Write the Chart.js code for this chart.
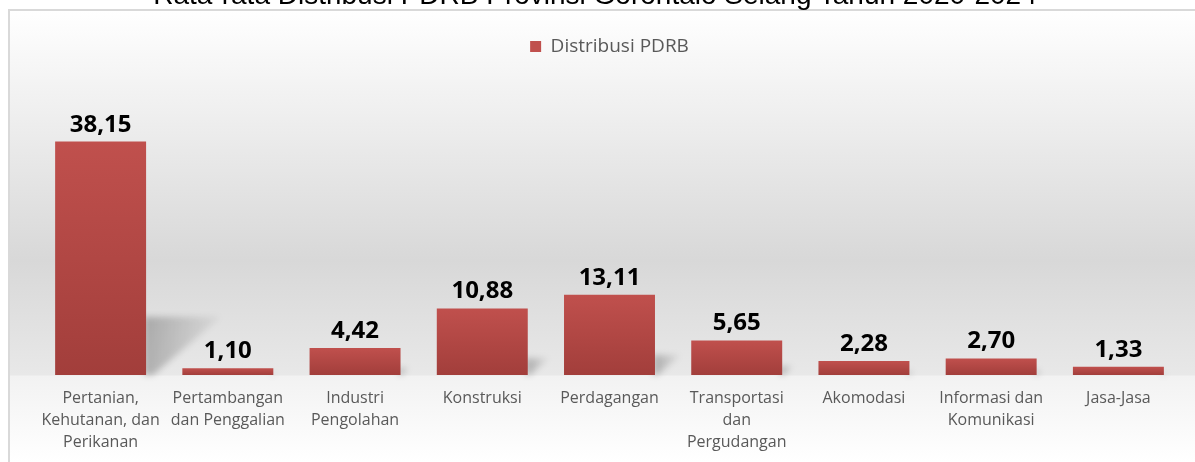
<!doctype html>
<html>

<head>
  <title>Distribusi PDRB</title>
  <script src="https://cdn.jsdelivr.net/npm/chart.js"></script>
  <style>
    body { margin: 0; background: #fff; overflow: hidden; }
    #wrap { position: relative; width: 1195px; height: 462px; }
    #title {
      position: absolute; left: 0; top: -19px; width: 1190px;
      text-align: center; font: 28px "Liberation Sans", Arial, sans-serif;
      line-height: 28px; color: #000; white-space: nowrap; z-index: 2;
    }
  </style>
</head>

<body>
<div id="wrap">
  <div id="title">Rata-rata Distribusi PDRB Provinsi Gorontalo Selang Tahun 2020-2024</div>
  <canvas id="chart" width="1195" height="462"></canvas>
</div>
<script>
    const categories = [
        ['Pertanian,', 'Kehutanan, dan', 'Perikanan'],
        ['Pertambangan', 'dan Penggalian'],
        ['Industri', 'Pengolahan'],
        'Konstruksi',
        'Perdagangan',
        ['Transportasi', 'dan', 'Pergudangan'],
        'Akomodasi',
        ['Informasi dan', 'Komunikasi'],
        'Jasa-Jasa'
    ];
    const distribusi = [38.15, 1.10, 4.42, 10.88, 13.11, 5.65, 2.28, 2.70, 1.33];
    const seriesName = 'Distribusi PDRB';

    const fmt = v => v.toFixed(2).replace('.', ',');

    // background panel with a light "floor" under the bars
    const backdrop = {
        id: 'backdrop',
        beforeDraw(chart) {
            const {ctx, chartArea} = chart;
            const b = chartArea.bottom;
            ctx.save();
            ctx.fillStyle = '#fff';
            ctx.fillRect(0, 0, chart.width, chart.height);
            const g = ctx.createLinearGradient(0, 10, 0, chart.height);
            const f = y => (y - 10) / (chart.height - 10);
            g.addColorStop(0, '#ffffff');
            g.addColorStop(f(260), '#d8d8d8');
            g.addColorStop(f(b), '#e8e8e8');
            g.addColorStop(f(b + 1), '#f2f2f2');
            g.addColorStop(1, '#ffffff');
            ctx.fillStyle = g;
            ctx.fillRect(9, 10, chart.width, chart.height);
            ctx.strokeStyle = '#d9d9d9';
            ctx.lineWidth = 2;
            ctx.beginPath();
            ctx.moveTo(9, chart.height + 5);
            ctx.lineTo(9, 10);
            ctx.lineTo(chart.width + 5, 10);
            ctx.stroke();
            ctx.restore();
        }
    };

    // soft perspective shadow behind each bar
    const barShadow = {
        id: 'barShadow',
        beforeDatasetsDraw(chart) {
            const {ctx} = chart;
            const meta = chart.getDatasetMeta(0);
            ctx.save();
            ctx.filter = 'blur(3px)';
            meta.data.forEach(bar => {
                const h = bar.base - bar.y;
                const r = bar.x + bar.width / 2;
                const top = bar.base - 0.25 * h;
                const g = ctx.createLinearGradient(r, 0, r + 0.32 * h, 0);
                g.addColorStop(0, 'rgba(0,0,0,0.24)');
                g.addColorStop(1, 'rgba(0,0,0,0.03)');
                ctx.fillStyle = g;
                ctx.beginPath();
                ctx.moveTo(r - 2, bar.base);
                ctx.lineTo(r - 2, top);
                ctx.lineTo(r + 0.32 * h, top);
                ctx.lineTo(r + 0.03 * h, bar.base);
                ctx.closePath();
                ctx.fill();
            });
            ctx.restore();
        }
    };

    const valueLabels = {
        id: 'valueLabels',
        afterDatasetsDraw(chart) {
            const {ctx} = chart;
            const meta = chart.getDatasetMeta(0);
            ctx.save();
            ctx.font = 'bold 24px "Open Sans", sans-serif';
            ctx.fillStyle = '#000';
            ctx.textAlign = 'center';
            ctx.textBaseline = 'alphabetic';
            meta.data.forEach((bar, i) => {
                ctx.fillText(fmt(distribusi[i]), bar.x, bar.y - 10);
            });
            ctx.restore();
        }
    };

    function barFill(c) {
        const chart = c.chart;
        if (c.type !== 'data' || !chart.chartArea) return '#c0504d';
        const y = chart.scales.y;
        const top = y.getPixelForValue(c.raw);
        const base = y.getPixelForValue(0);
        if (!isFinite(top) || base - top < 1) return '#b94a47';
        const g = chart.ctx.createLinearGradient(0, top, 0, base);
        g.addColorStop(0, '#c0504d');
        g.addColorStop(1, '#a23e3b');
        return g;
    }

    const ctx = document.getElementById('chart').getContext('2d');
    const chart = new Chart(ctx, {
        type: 'bar',
        data: {
            labels: categories,
            datasets: [{
                label: seriesName,
                data: distribusi,
                backgroundColor: barFill,
                borderWidth: 0,
                categoryPercentage: 1,
                barPercentage: 0.715
            }]
        },
        plugins: [backdrop, barShadow, valueLabels],
        options: {
            responsive: false,
            animation: false,
            layout: { padding: { left: 37, right: 13, top: 9, bottom: -3 } },
            plugins: {
                tooltip: { enabled: false },
                legend: {
                    position: 'top',
                    labels: {
                        boxWidth: 11,
                        boxHeight: 11,
                        padding: 28,
                        color: '#595959',
                        font: { family: '"Open Sans", sans-serif', size: 19 },
                        generateLabels: () => [{
                            text: seriesName,
                            fillStyle: '#c0504d',
                            strokeStyle: '#c0504d',
                            lineWidth: 0,
                            fontColor: '#595959',
                            datasetIndex: 0
                        }]
                    }
                }
            },
            scales: {
                x: {
                    grid: { display: false, drawTicks: false },
                    border: { display: false },
                    ticks: {
                        color: '#595959',
                        font: { family: '"Open Sans", sans-serif', size: 16, lineHeight: '22px' },
                        padding: 12,
                        autoSkip: false,
                        maxRotation: 0
                    }
                },
                y: {
                    display: false,
                    min: 0,
                    max: 50.5
                }
            }
        }
    });
</script>
</body>

</html>
